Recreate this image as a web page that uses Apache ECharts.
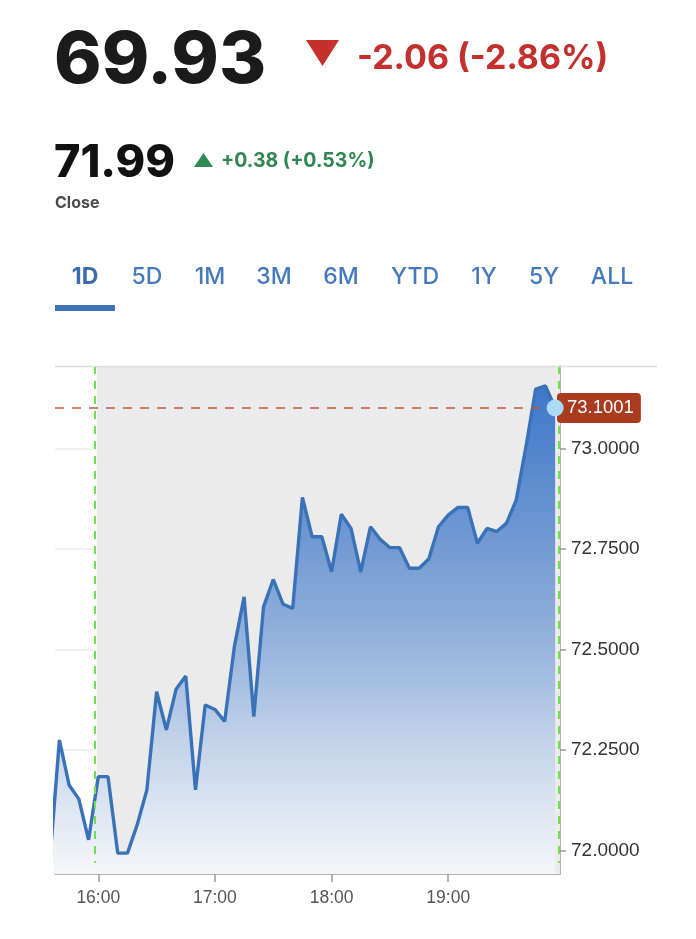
<!DOCTYPE html>
<html>
<head>
<meta charset="utf-8">
<script src="https://cdn.jsdelivr.net/npm/echarts@6/dist/echarts.min.js"></script>
<style>
html,body{margin:0;padding:0;background:#fff;}
#c{width:696px;height:939px;}
</style>
</head>
<body>
<div id="c"></div>
<script>
// ---- data ----
const times = ['15:35','15:40','15:45','15:50','15:55',
  '16:00','16:05','16:10','16:15','16:20','16:25','16:30','16:35','16:40','16:45','16:50','16:55',
  '17:00','17:05','17:10','17:15','17:20','17:25','17:30','17:35','17:40','17:45','17:50','17:55',
  '18:00','18:05','18:10','18:15','18:20','18:25','18:30','18:35','18:40','18:45','18:50','18:55',
  '19:00','19:05','19:10','19:15','19:20','19:25','19:30','19:35','19:40','19:45','19:50','19:55'];
const prices = [71.97, 72.275, 72.163, 72.128, 72.027,
  72.184, 72.184, 71.994, 71.994, 72.064, 72.151, 72.395, 72.300, 72.401, 72.434, 72.151, 72.362,
  72.351, 72.321, 72.507, 72.631, 72.333, 72.606, 72.674, 72.613, 72.602, 72.878, 72.780, 72.780,
  72.693, 72.836, 72.801, 72.693, 72.805, 72.774, 72.753, 72.753, 72.702, 72.702, 72.725, 72.805,
  72.834, 72.853, 72.853, 72.764, 72.801, 72.793, 72.814, 72.872, 73.004, 73.147, 73.155, 73.1001];
const yTickValues = [72.0, 72.25, 72.5, 72.75, 73.0];
const xTickTimes = ['16:00','17:00','18:00','19:00'];
const axisRangeTimes = ['15:37:44','19:57:30'];
const yRange = [71.942, 73.2045];
const lastPrice = 73.1001;
const shadeStartTime = '15:59:10';
const sessionMarkTimes = ['15:58:00','19:56:36'];
const sessionMarkBottom = 71.97;
const tabLabels = ['1D','5D','1M','3M','6M','YTD','1Y','5Y','ALL'];
const headerTexts = {price:'69.93', change:'-2.06 (-2.86%)', close:'71.99', closeChange:'+0.38 (+0.53%)', closeLabel:'Close'};

// ---- helpers: time of day as minutes ----
function toMin(s){
  const p = s.split(':').map(Number);
  return p[0]*60 + p[1] + (p[2]||0)/60;
}
function pad(n){return (n<10?'0':'')+n;}
function fmtTime(v){const m=Math.round(v);return pad(Math.floor(m/60))+':'+pad(m%60);}

const seriesData = times.map((t,i)=>[toMin(t), prices[i]]);
const lastX = toMin(times[times.length-1]);

const chart = echarts.init(document.getElementById('c'), null, {renderer:'canvas'});

const tabCenters = [85,147,210,274,341,415,484,544,612];
const graphics = [
  {type:'text', style:{text:headerTexts.price, x:54, y:61, font:'800 72px Inter', fill:'#1b1b1b', textAlign:'left', textVerticalAlign:'middle'}},
  {type:'polygon', shape:{points:[[306,40],[339,40],[322.5,66]]}, style:{fill:'#c8302c'}},
  {type:'text', style:{text:headerTexts.change, x:357, y:59, font:'700 34px Inter', fill:'#c3302d', textAlign:'left', textVerticalAlign:'middle'}},
  {type:'text', style:{text:headerTexts.close, x:54, y:163, font:'800 45px Inter', fill:'#111', textAlign:'left', textVerticalAlign:'middle'}},
  {type:'polygon', shape:{points:[[194,167],[213,167],[203.5,153]]}, style:{fill:'#2f8a55'}},
  {type:'text', style:{text:headerTexts.closeChange, x:221, y:161, font:'700 19.5px Inter', fill:'#2f8650', textAlign:'left', textVerticalAlign:'middle'}},
  {type:'text', style:{text:headerTexts.closeLabel, x:55, y:203.5, font:'700 16px Inter', fill:'#4a4a4a', textAlign:'left', textVerticalAlign:'middle'}},
  {type:'rect', shape:{x:55, y:305, width:60, height:6}, style:{fill:'#3e74b8'}},
  {type:'line', shape:{x1:55, y1:366.5, x2:657, y2:366.5}, style:{stroke:'#dedede', lineWidth:1.5}, z:10}
];
tabLabels.forEach((t,i)=>{
  graphics.push({type:'text', style:{text:t, x:tabCenters[i], y:277, font:(i===0?'700 ':'500 ')+'23px Inter', fill:(i===0?'#3a6cae':'#4479bb'), textAlign:'center', textVerticalAlign:'middle'}});
});

const option = {
  animation:false,
  grid:{left:55, right:136, top:366, bottom:65},
  xAxis:{
    type:'value',
    min:toMin(axisRangeTimes[0]), max:toMin(axisRangeTimes[1]),
    axisLine:{show:true, lineStyle:{color:'#9a9a9a', width:1.5}},
    axisTick:{show:true, length:8, lineStyle:{color:'#9a9a9a', width:1.5}, customValues:xTickTimes.map(toMin)},
    axisLabel:{customValues:xTickTimes.map(toMin), formatter:fmtTime, color:'#555', fontSize:17.5, fontFamily:'Liberation Sans', margin:15},
    splitLine:{show:true, lineStyle:{color:'rgba(0,0,0,0.075)', width:1.5}}
  },
  yAxis:{
    type:'value', position:'right',
    min:yRange[0], max:yRange[1],
    axisLine:{show:true, lineStyle:{color:'#9a9a9a', width:1.5}},
    axisTick:{show:true, length:6, lineStyle:{color:'#9a9a9a', width:1.5}, customValues:yTickValues},
    axisLabel:{customValues:yTickValues, formatter:v=>v.toFixed(4), color:'#333', fontSize:19, fontFamily:'Liberation Sans', margin:11},
    splitLine:{show:true, lineStyle:{color:'rgba(0,0,0,0.075)', width:1.5}}
  },
  graphic:graphics,
  series:[
    {
      type:'line', z:-1, data:[], silent:true,
      markArea:{silent:true, itemStyle:{color:'#ebebeb'}, data:[[{xAxis:toMin(shadeStartTime)},{xAxis:toMin(axisRangeTimes[1])}]]}
    },
    {
      type:'line', data:seriesData, symbol:'none', z:2,
      lineStyle:{color:'#3a72b8', width:3.4},
      areaStyle:{opacity:0.92, color:new echarts.graphic.LinearGradient(0,0,0,1,[
        {offset:0,color:'#2f6dc6'},{offset:0.34,color:'#6a95d1'},{offset:0.54,color:'#90b0dc'},
        {offset:0.75,color:'#c4d4eb'},{offset:1,color:'#f6f7fa'}])},
      markLine:{
        silent:true, symbol:['none','none'], animation:false,
        data:[
          {yAxis:lastPrice, lineStyle:{color:'#c4553f', type:[9,8], width:1.6},
           label:{show:true, position:'end', distance:-3, formatter:()=>lastPrice.toFixed(4), color:'#fff', backgroundColor:'#a93b1f',
                  padding:[6,7,5,10], borderRadius:4, fontSize:18.5, fontFamily:'Liberation Sans'}},
          [{coord:[toMin(sessionMarkTimes[0]), yRange[1]], lineStyle:{color:'#6fe04f', type:[8,7], width:2}, label:{show:false}},
           {coord:[toMin(sessionMarkTimes[0]), sessionMarkBottom]}],
          [{coord:[toMin(sessionMarkTimes[1]), yRange[1]], lineStyle:{color:'#6fe04f', type:[8,7], width:2}, label:{show:false}},
           {coord:[toMin(sessionMarkTimes[1]), sessionMarkBottom]}]
        ]
      },
      markPoint:{
        silent:true, symbol:'circle', symbolSize:17, z:20,
        itemStyle:{color:'#a9dbf6'}, label:{show:false},
        data:[{coord:[lastX, lastPrice]}]
      }
    }
  ]
};
chart.setOption(option);
</script>
</body>
</html>
